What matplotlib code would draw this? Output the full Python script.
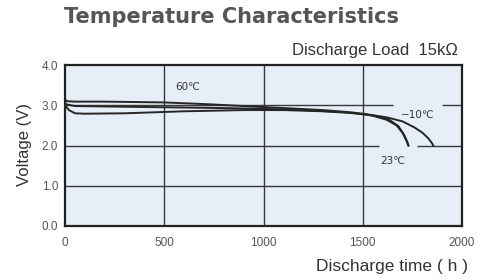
import matplotlib.pyplot as plt

plt.rcParams['font.family'] = ['Liberation Sans', 'DejaVu Sans']

# discharge curves (hours, volts)
t_60 = [0, 10, 50, 200, 500, 700, 900, 1100, 1300, 1450, 1550, 1620, 1670, 1700, 1720, 1730]
v_60 = [3.15, 3.10, 3.09, 3.09, 3.07, 3.03, 2.98, 2.93, 2.88, 2.82, 2.74, 2.64, 2.50, 2.32, 2.12, 2.00]
t_23 = [0, 10, 50, 200, 500, 800, 1000, 1200, 1400, 1550, 1630, 1680, 1710, 1725, 1730]
v_23 = [3.05, 3.02, 2.98, 2.97, 2.95, 2.93, 2.91, 2.88, 2.83, 2.75, 2.65, 2.48, 2.25, 2.08, 2.00]
t_m10 = [0, 20, 50, 100, 300, 600, 900, 1100, 1300, 1500, 1620, 1700, 1760, 1800, 1830, 1850, 1855]
v_m10 = [3.00, 2.88, 2.80, 2.79, 2.80, 2.85, 2.88, 2.88, 2.85, 2.79, 2.70, 2.60, 2.45, 2.32, 2.18, 2.05, 2.00]

x_ticks = [0, 500, 1000, 1500, 2000]
y_ticks = [0.0, 1.0, 2.0, 3.0, 4.0]

fig = plt.figure(figsize=(4.83, 2.8), dpi=100)
ax = fig.add_axes([65 / 483, 1 - 226 / 280, (462 - 65) / 483, (226 - 65) / 280])
ax.set_facecolor('#e6eef7')

grid_c = '#3a3a3a'
for x in [500, 1000, 1500]:
    ax.axvline(x, color=grid_c, lw=1.0, zorder=1)
ax.axhline(1.0, color=grid_c, lw=1.0, zorder=1)
# gridlines at 2.0 and 3.0 are broken around the labels
ax.hlines(3.0, 0, 1650, color=grid_c, lw=1.0, zorder=1)
ax.hlines(3.0, 1900, 2000, color=grid_c, lw=1.0, zorder=1)
ax.hlines(2.0, 0, 1580, color=grid_c, lw=1.0, zorder=1)
ax.hlines(2.0, 1775, 2000, color=grid_c, lw=1.0, zorder=1)

line_c = '#262626'
ax.plot(t_60, v_60, color=line_c, lw=1.4, zorder=3)
ax.plot(t_23, v_23, color=line_c, lw=1.4, zorder=3)
ax.plot(t_m10, v_m10, color=line_c, lw=1.4, zorder=3)

ax.text(555, 3.38, '60℃', fontsize=7.5, color='#333333', family=['DejaVu Sans'])
ax.text(1690, 2.68, '−10℃', fontsize=7.5, color='#333333', family=['DejaVu Sans'])
ax.text(1590, 1.55, '23℃', fontsize=7.5, color='#333333', family=['DejaVu Sans'])

ax.set_xlim(0, 2000)
ax.set_ylim(0, 4.0)
ax.set_xticks(x_ticks)
ax.set_yticks(y_ticks)
ax.set_xticklabels([str(v) for v in x_ticks])
ax.set_yticklabels(['%.1f' % v for v in y_ticks])
ax.tick_params(length=0, labelsize=8.5, colors='#555555')
ax.tick_params(axis='x', pad=8)
ax.tick_params(axis='y', pad=5)
for s in ax.spines.values():
    s.set_color('#222222')
    s.set_linewidth(1.6)

fig.text(232 / 483, 1 - 17 / 280, 'Temperature Characteristics', ha='center', va='center',
         fontsize=15, fontweight='bold', color='#555555', family=['DejaVu Sans'])
fig.text(458 / 483, 1 - 50 / 280, 'Discharge Load  15kΩ', ha='right', va='center',
         fontsize=12, color='#333333')
fig.text(468 / 483, 1 - 267 / 280, 'Discharge time ( h )', ha='right', va='center',
         fontsize=12.5, color='#333333')
fig.text(25 / 483, 1 - 145 / 280, 'Voltage (V)', ha='center', va='center', rotation=90,
         fontsize=12, color='#333333')

fig.savefig('out.png', dpi=100)
